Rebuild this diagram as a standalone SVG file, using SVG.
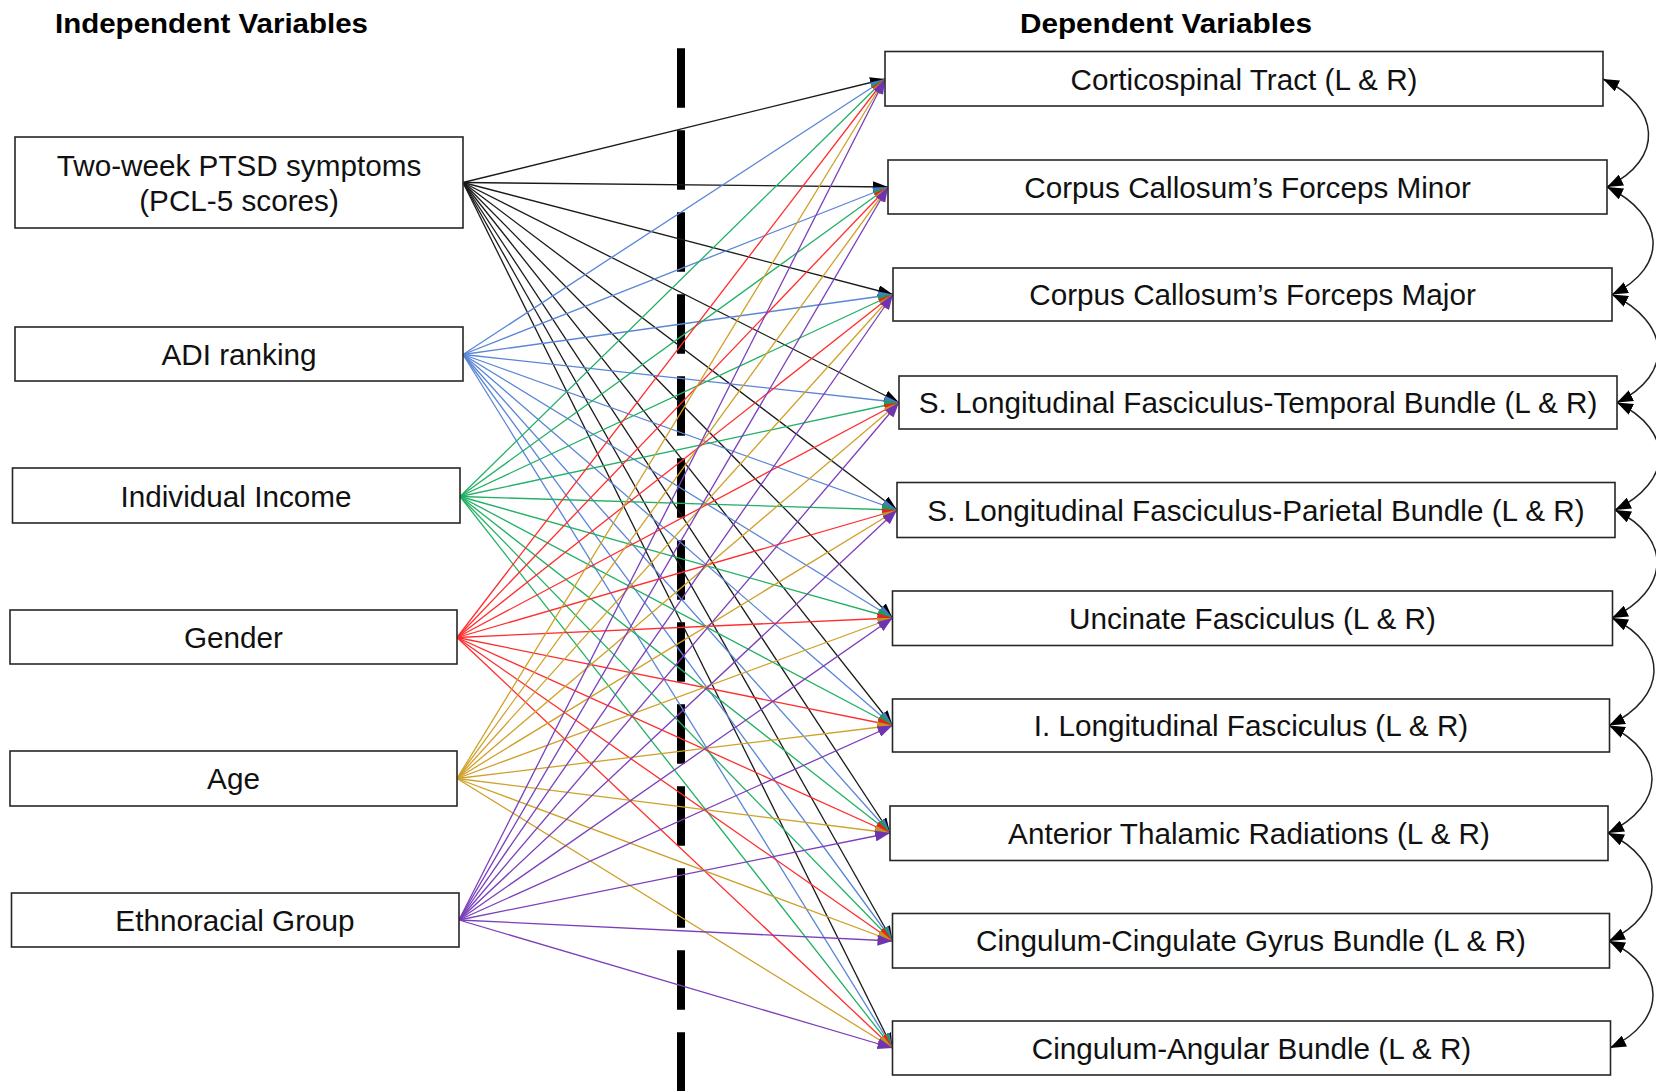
<svg xmlns="http://www.w3.org/2000/svg" width="1656" height="1091" viewBox="0 0 1656 1091">
<style>
.box{fill:#fff;stroke:#262626;stroke-width:1.6}
.t{font-family:"Liberation Sans",Arial,sans-serif;font-size:29.7px;fill:#111;text-anchor:middle}
.h{font-family:"Liberation Sans",Arial,sans-serif;font-size:27px;font-weight:bold;fill:#000}
.c path{fill:none;stroke-width:1.3}
.k path{stroke:#1a1a1a;marker-end:url(#mk)}
.b path{stroke:#5a86d6;marker-end:url(#mb)}
.g path{stroke:#22b064;marker-end:url(#mg)}
.r path{stroke:#ff2d2d;marker-end:url(#mr)}
.y path{stroke:#cfa12a;marker-end:url(#my)}
.p path{stroke:#7a3fba;marker-end:url(#mp)}
.cv path{fill:none;stroke:#222;stroke-width:1.5;marker-start:url(#mc);marker-end:url(#mc)}
</style>
<defs>
<marker id="mk" markerUnits="userSpaceOnUse" markerWidth="15" markerHeight="11" refX="15" refY="5.5" orient="auto"><path d="M0,0 L15,5.5 L0,11 z" fill="#000"/></marker>
<marker id="mb" markerUnits="userSpaceOnUse" markerWidth="15" markerHeight="11" refX="15" refY="5.5" orient="auto"><path d="M0,0 L15,5.5 L0,11 z" fill="#4a78cc"/></marker>
<marker id="mg" markerUnits="userSpaceOnUse" markerWidth="15" markerHeight="11" refX="15" refY="5.5" orient="auto"><path d="M0,0 L15,5.5 L0,11 z" fill="#1a9e58"/></marker>
<marker id="mr" markerUnits="userSpaceOnUse" markerWidth="15" markerHeight="11" refX="15" refY="5.5" orient="auto"><path d="M0,0 L15,5.5 L0,11 z" fill="#ee2020"/></marker>
<marker id="my" markerUnits="userSpaceOnUse" markerWidth="15" markerHeight="11" refX="15" refY="5.5" orient="auto"><path d="M0,0 L15,5.5 L0,11 z" fill="#c49420"/></marker>
<marker id="mp" markerUnits="userSpaceOnUse" markerWidth="15" markerHeight="11" refX="15" refY="5.5" orient="auto"><path d="M0,0 L15,5.5 L0,11 z" fill="#6f35b0"/></marker>
<marker id="mc" markerUnits="userSpaceOnUse" markerWidth="16" markerHeight="12" refX="16" refY="6" orient="auto-start-reverse"><path d="M0,0 L16,6 L0,12 z" fill="#000"/></marker>
</defs>
<rect width="1656" height="1091" fill="#fff"/>

<text class="h" x="55" y="33" textLength="313" lengthAdjust="spacingAndGlyphs">Independent Variables</text>
<text class="h" x="1020" y="33" textLength="292" lengthAdjust="spacingAndGlyphs">Dependent Variables</text>

<line x1="681" y1="48.3" x2="681" y2="1091" stroke="#000" stroke-width="8" stroke-dasharray="59.5 22.5"/>

<g id="connectors" class="c">
<g class="k">
<path d="M463,182.5 L885,79"/><path d="M463,182.5 L888,187"/><path d="M463,182.5 L893,294.5"/><path d="M463,182.5 L899,402.5"/><path d="M463,182.5 L897,510"/><path d="M463,182.5 L892.5,618"/><path d="M463,182.5 L892.5,725.5"/><path d="M463,182.5 L890,833"/><path d="M463,182.5 L892.5,941"/><path d="M463,182.5 L892.5,1048"/>
</g>
<g class="b">
<path d="M463,354.5 L885,79"/><path d="M463,354.5 L888,187"/><path d="M463,354.5 L893,294.5"/><path d="M463,354.5 L899,402.5"/><path d="M463,354.5 L897,510"/><path d="M463,354.5 L892.5,618"/><path d="M463,354.5 L892.5,725.5"/><path d="M463,354.5 L890,833"/><path d="M463,354.5 L892.5,941"/><path d="M463,354.5 L892.5,1048"/>
</g>
<g class="g">
<path d="M460,496.5 L885,79"/><path d="M460,496.5 L888,187"/><path d="M460,496.5 L893,294.5"/><path d="M460,496.5 L899,402.5"/><path d="M460,496.5 L897,510"/><path d="M460,496.5 L892.5,618"/><path d="M460,496.5 L892.5,725.5"/><path d="M460,496.5 L890,833"/><path d="M460,496.5 L892.5,941"/><path d="M460,496.5 L892.5,1048"/>
</g>
<g class="r">
<path d="M457,637.5 L885,79"/><path d="M457,637.5 L888,187"/><path d="M457,637.5 L893,294.5"/><path d="M457,637.5 L899,402.5"/><path d="M457,637.5 L897,510"/><path d="M457,637.5 L892.5,618"/><path d="M457,637.5 L892.5,725.5"/><path d="M457,637.5 L890,833"/><path d="M457,637.5 L892.5,941"/><path d="M457,637.5 L892.5,1048"/>
</g>
<g class="y">
<path d="M457,778.5 L885,79"/><path d="M457,778.5 L888,187"/><path d="M457,778.5 L893,294.5"/><path d="M457,778.5 L899,402.5"/><path d="M457,778.5 L897,510"/><path d="M457,778.5 L892.5,618"/><path d="M457,778.5 L892.5,725.5"/><path d="M457,778.5 L890,833"/><path d="M457,778.5 L892.5,941"/><path d="M457,778.5 L892.5,1048"/>
</g>
<g class="p">
<path d="M459,920 L885,79"/><path d="M459,920 L888,187"/><path d="M459,920 L893,294.5"/><path d="M459,920 L899,402.5"/><path d="M459,920 L897,510"/><path d="M459,920 L892.5,618"/><path d="M459,920 L892.5,725.5"/><path d="M459,920 L890,833"/><path d="M459,920 L892.5,941"/><path d="M459,920 L892.5,1048"/>
</g>
<g class="cv">
<path d="M1603,79 C1661,107 1665,159 1607,187"/>
<path d="M1607,187 C1665,215 1670,266.5 1612,294.5"/>
<path d="M1612,294.5 C1670,322.5 1675,374.5 1617,402.5"/>
<path d="M1617,402.5 C1675,430.5 1673,482 1615,510"/>
<path d="M1615,510 C1673,538 1670,590 1612,618"/>
<path d="M1612,618 C1670,646 1667,697.5 1609,725.5"/>
<path d="M1609,725.5 C1667,753.5 1666,805 1608,833"/>
<path d="M1608,833 C1666,861 1667,913 1609,941"/>
<path d="M1609,941 C1667,969 1668,1020 1610,1048"/>
</g>
</g>

<g id="iv-ptsd"><rect class="box" x="15" y="137" width="448" height="91"/><text class="t" x="239" y="176">Two-week PTSD symptoms</text><text class="t" x="239" y="211">(PCL-5 scores)</text></g>
<g id="iv-adi"><rect class="box" x="15" y="327" width="448" height="54"/><text class="t" x="239" y="364.5">ADI ranking</text></g>
<g id="iv-income"><rect class="box" x="12.5" y="468" width="447.5" height="55"/><text class="t" x="236" y="506.5">Individual Income</text></g>
<g id="iv-gender"><rect class="box" x="10" y="610" width="447" height="54"/><text class="t" x="233.5" y="647.5">Gender</text></g>
<g id="iv-age"><rect class="box" x="10" y="751" width="447" height="55"/><text class="t" x="233.5" y="789">Age</text></g>
<g id="iv-ethno"><rect class="box" x="11.5" y="893" width="447.5" height="54"/><text class="t" x="235" y="930.5">Ethnoracial Group</text></g>

<g id="dv-cst"><rect class="box" x="885" y="51.5" width="718" height="54.5"/><text class="t" x="1244" y="89.5">Corticospinal Tract (L &amp; R)</text></g>
<g id="dv-fmin"><rect class="box" x="888" y="160" width="719" height="54"/><text class="t" x="1247.5" y="197.5">Corpus Callosum’s Forceps Minor</text></g>
<g id="dv-fmaj"><rect class="box" x="893" y="268" width="719" height="53"/><text class="t" x="1252.5" y="305">Corpus Callosum’s Forceps Major</text></g>
<g id="dv-slft"><rect class="box" x="899" y="376" width="718" height="53"/><text class="t" x="1258" y="413">S. Longitudinal Fasciculus-Temporal Bundle (L &amp; R)</text></g>
<g id="dv-slfp"><rect class="box" x="897" y="482.5" width="718" height="55"/><text class="t" x="1256" y="520.5">S. Longitudinal Fasciculus-Parietal Bundle (L &amp; R)</text></g>
<g id="dv-unc"><rect class="box" x="892.5" y="591" width="720" height="54.5"/><text class="t" x="1252.5" y="628.5">Uncinate Fasciculus (L &amp; R)</text></g>
<g id="dv-ilf"><rect class="box" x="892.5" y="699" width="717" height="53"/><text class="t" x="1251" y="736">I. Longitudinal Fasciculus (L &amp; R)</text></g>
<g id="dv-atr"><rect class="box" x="890" y="806" width="718" height="54.5"/><text class="t" x="1249" y="843.5">Anterior Thalamic Radiations (L &amp; R)</text></g>
<g id="dv-ccg"><rect class="box" x="892.5" y="913.5" width="717" height="54.5"/><text class="t" x="1251" y="951">Cingulum-Cingulate Gyrus Bundle (L &amp; R)</text></g>
<g id="dv-cab"><rect class="box" x="892.5" y="1021" width="718" height="54"/><text class="t" x="1251.5" y="1058.5">Cingulum-Angular Bundle (L &amp; R)</text></g>
</svg>
